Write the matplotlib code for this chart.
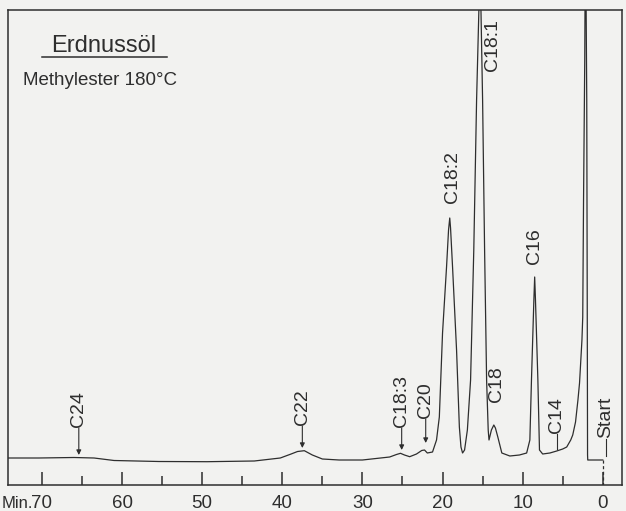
import matplotlib
matplotlib.use("Agg")
import matplotlib.pyplot as plt

# Chromatogramm Erdnussöl, Methylester bei 180 °C
# Spur abgelesen: Zeit (min) und Signal (willkürliche Einheiten, 0 = Achse)
trace_time = [74.4, 70.4, 66.0, 63.5, 61.0, 55.4, 49.4, 43.5, 40.25, 38.9, 38.1, 37.25,
              36.25, 35.0, 32.9, 30.0, 26.6, 25.75, 25.25, 24.75, 24.1, 23.25, 22.6, 22.25,
              21.9, 21.25, 20.75, 20.4, 20.0, 19.5, 19.25, 19.1, 19.0, 18.75, 18.25, 17.9,
              17.7, 17.5, 17.25, 16.9, 16.5, 16.1, 15.75, 15.4, 15.25, 15.0, 14.75, 14.5,
              14.3, 14.2, 13.9, 13.6, 13.4, 13.1, 12.6, 11.6, 10.4, 9.5, 9.1, 8.9,
              8.6, 8.5, 8.4, 8.1, 7.9, 7.5, 6.6, 5.75, 5.0, 4.5, 4.0, 3.75,
              3.4, 3.1, 2.9, 2.6, 2.5, 2.4, 2.25, 2.2, 2.1, 2.0, 1.94, 1.9,
              1.875, 0.0]
trace_signal = [27, 27, 27.5, 27, 24.5, 23.5, 23.3, 24, 27, 31, 33.5, 34.3,
                30, 26, 25, 25, 28, 30.5, 31.7, 30, 28.3, 31, 34.5, 35,
                32, 33, 45, 68, 152, 218, 255, 267, 257, 218, 135, 58,
                38, 32, 35, 55, 105, 235, 385, 495, 495, 385, 235, 105,
                55, 45, 55, 60, 57, 48, 32, 29, 30, 32, 45, 105,
                185, 208, 185, 105, 35, 31, 32, 34, 36, 38, 45, 50,
                63, 85, 102, 145, 168, 285, 425, 505, 505, 385, 185, 30,
                25, 25]

# Peakbeschriftungen
arrow_names = ["C24", "C22", "C18:3", "C20"]
arrow_times = [65.4, 37.5, 25.1, 22.1]
arrow_tips = [30, 37, 35, 42]

leader_names = ["C14", "Start"]
leader_times = [5.75, -0.4]
leader_tips = [36, 29]

free_names = ["C18:2", "C18:1", "C18", "C16"]
free_times = [18.75, 13.8, 13.3, 8.5]

ticks_major = [70, 60, 50, 40, 30, 20, 10, 0]
ticks_minor = [65, 55, 45, 35, 25, 15, 5]

ink = "#2e2e2e"
paper = "#f2f2f0"

plt.rcParams['font.family'] = ['Liberation Sans', 'DejaVu Sans']

fig = plt.figure(figsize=(6.26, 5.11), dpi=100, facecolor=paper)
ax = fig.add_axes([7.5 / 626, 26 / 511, 614.5 / 626, 475 / 511], facecolor=paper)

ax.plot(trace_time, trace_signal, color=ink, lw=0.9)
ax.set_xlim(74.3, -2.4)
ax.set_ylim(0, 475)

# Startmarke: gestrichelte Linie zur Achse
ax.plot([0, 0], [trace_signal[-1], 0], color=ink, lw=0.9, ls=(0, (2.5, 2)))

# Beschriftungen mit Pfeil (Textunterkante in Signaleinheiten)
label_bottom = [58, 60, 58, 67]
for name, t, tip, bot in zip(arrow_names, arrow_times, arrow_tips, label_bottom):
    ax.text(t, bot, name, rotation=90, ha='center', va='bottom', fontsize=14, color=ink)
    ax.annotate('', xy=(t, tip), xytext=(t, bot - 1),
                arrowprops=dict(arrowstyle='-|>', lw=0.8, color=ink, mutation_scale=7,
                                shrinkA=0, shrinkB=0))

leader_bottom = [52, 47]
for name, t, tip, bot in zip(leader_names, leader_times, leader_tips, leader_bottom):
    ax.text(t, bot, name, rotation=90, ha='center', va='bottom', fontsize=14, color=ink)
    ax.plot([t, t], [bot - 1, tip], color=ink, lw=0.8)

free_center = [308, 440, 101, 239]
for name, t, c in zip(free_names, free_times, free_center):
    ax.text(t, c, name, rotation=90, ha='center', va='center', fontsize=14, color=ink)

# Titel
ax.text(0.156, 0.9116, "Erdnussöl", transform=ax.transAxes, ha='center',
        va='baseline', fontsize=17, color=ink)
ax.plot([0.056, 0.26], [0.901, 0.901], transform=ax.transAxes, color=ink, lw=1.1)
ax.text(0.025, 0.842, "Methylester 180°C", transform=ax.transAxes, ha='left',
        va='baseline', fontsize=13.5, color=ink)

# Achse
ax.set_xticks(ticks_major)
ax.set_xticks(ticks_minor, minor=True)
ax.set_xticklabels([str(v) for v in ticks_major], fontsize=13.5, color=ink)
ax.tick_params(axis='x', which='major', direction='in', length=9.5, width=1.1,
               color=ink, pad=7)
ax.tick_params(axis='x', which='minor', direction='in', length=6.5, width=1.1, color=ink)
ax.set_yticks([])
ax.text(71.1, -0.038, "Min.", transform=ax.get_xaxis_transform(), ha='right',
        va='center', fontsize=12, color=ink, clip_on=False)
for s in ax.spines.values():
    s.set_color(ink)
    s.set_linewidth(1.1)

fig.savefig("out.png", dpi=100, facecolor=paper)
